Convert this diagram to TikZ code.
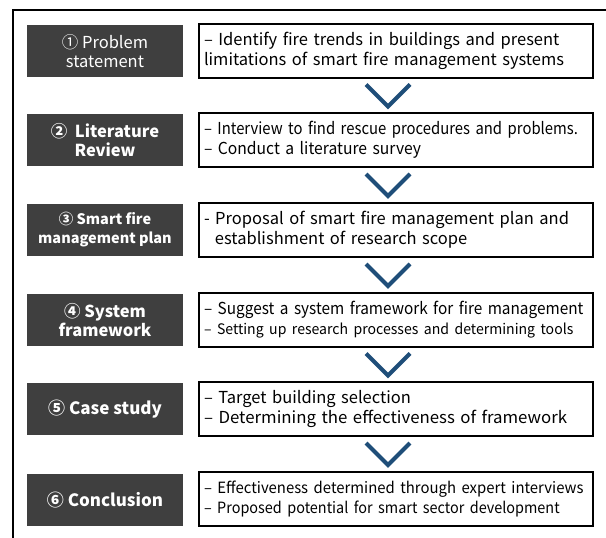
\documentclass[tikz,border=0pt]{standalone}
\usepackage{fontspec}
\setmainfont{Noto Sans CJK KR}
\usetikzlibrary{calc}

\definecolor{stagegray}{HTML}{3F3F3F}
\definecolor{chevblue}{HTML}{1F4E79}

% squeeze a line sideways so it stays on one row
\newcommand{\squeezed}[2]{{\addfontfeatures{FakeStretch=#1}#2}}

\tikzset{
  stage/.style={fill=stagegray, text=white, minimum width=156pt, minimum height=52pt,
    align=center, inner sep=2pt, font=\bfseries\fontsize{16.5}{19}\selectfont},
  detail/.style={draw, line width=1.5pt, minimum width=394pt, minimum height=54pt,
    text width=384pt, align=left, inner sep=4pt, font=\fontsize{16.5}{20}\selectfont},
  chev/.style={chevblue, line width=4pt}
}

\begin{document}
\begin{tikzpicture}[x=1pt, y=-1pt]
\useasboundingbox (0,0) rectangle (606,538);
% frame
\draw[line width=2pt] (13,538) -- (13,10) -- (606,10);

% stages on the left
\node[stage, font=\fontsize{16.5}{19}\selectfont] (s1) at (105,51) {① Problem\\statement};
\node[stage] (s2) at (105,140) {②\ \ Literature\\Review};
\node[stage, font=\bfseries\fontsize{14.5}{19}\selectfont] (s3) at (105,230) {③ Smart fire\\management plan};
\node[stage] (s4) at (105,320) {④ System\\framework};
\node[stage, font=\bfseries\fontsize{17}{19}\selectfont] (s5) at (105,409) {⑤ Case study};
\node[stage, font=\bfseries\fontsize{17}{19}\selectfont] (s6) at (105,500) {⑥ Conclusion};

% what is done in each stage
\node[detail] (d1) at (396,51) {– Identify fire trends in buildings and present\\limitations of smart fire management systems};
\node[detail] (d2) at (396,140) {\squeezed{0.9}{– Interview to find rescue procedures and problems.}\\\squeezed{0.95}{– Conduct a literature survey}};
\node[detail] (d3) at (396,230) {- Proposal of smart fire management plan and\\\ \ establishment of research scope};
\node[detail] (d4) at (396,320) {\squeezed{0.93}{– Suggest a system framework for fire management}\\{\fontsize{14.5}{18}\selectfont\squeezed{0.97}{– Setting up research processes and determining tools}}};
\node[detail] (d5) at (396,409) {– Target building selection\\\squeezed{1.02}{– Determining the effectiveness of framework}};
\node[detail] (d6) at (396,499) {{\fontsize{15.5}{19}\selectfont\squeezed{0.96}{– Effectiveness determined through expert interviews}}\\{\fontsize{15.5}{19}\selectfont\squeezed{0.93}{– Proposed potential for smart sector development}}};

% chevrons between the boxes
\foreach \a/\b in {1/2,2/3,3/4,4/5,5/6}{
  \coordinate (c\a) at ($(d\a.south)!0.5!(d\b.north)+(-8,0)$);
  \draw[chev] ($(c\a)+(-22,-11)$) -- ($(c\a)+(0,11)$) -- ($(c\a)+(22,-11)$);
}
\end{tikzpicture}
\end{document}
